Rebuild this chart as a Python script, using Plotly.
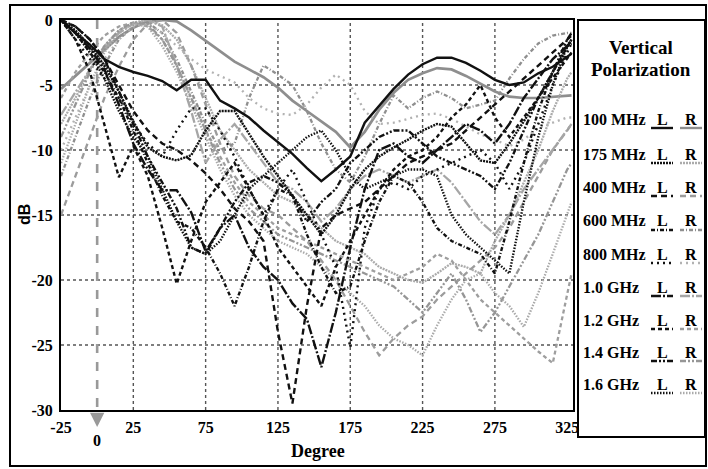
import plotly.graph_objects as go

# ---------------- data ----------------
DEG = [-25, -15, -5, 5, 15, 25, 35, 45, 55, 65, 75, 85, 95, 105, 115, 125, 135, 145,
       155, 165, 175, 185, 195, 205, 215, 225, 235, 245, 255, 265, 275, 285, 295, 305,
       315, 325, 328]

L_100 = [0, -1.0, -1.9, -3.0, -3.6, -4.0, -4.3, -4.7, -5.4, -4.6, -4.6, -6.2, -6.8, -7.5, -8.5, -9.4, -10.3, -11.4,
         -12.4, -11.5, -10.5, -7.9, -6.6, -5.3, -4.2, -3.4, -2.9, -2.9, -3.3, -3.9, -4.6, -5.0, -4.8, -4.1, -3.6, -2.8, -2.6]
R_100 = [-5.3, -4.3, -3.3, -2.3, -1.3, -0.6, -0.1, 0, -0.1, -0.8, -1.6, -2.4, -3.2, -3.8, -4.4, -5.2, -6.2, -7.0,
         -7.8, -8.6, -9.8, -8.6, -6.9, -5.6, -4.6, -4.1, -3.7, -3.8, -4.3, -4.9, -5.5, -5.9, -6.0, -6.0, -5.9, -5.8, -5.8]
L_175 = [0, -0.8, -2.0, -3.5, -5.5, -7.8, -9.8, -10.5, -10.8, -10.4, -8.5, -7.0, -7.0, -8.8, -10.5, -12.0, -13.5, -15.0,
         -16.5, -15.0, -13.0, -11.5, -10.5, -9.8, -9.2, -8.5, -8.0, -8.2, -9.5, -10.8, -11.0, -9.5, -7.8, -6.0, -4.0, -2.0, -1.5]
R_175 = [-8.0, -6.0, -3.8, -2.0, -0.8, -0.2, 0, -0.4, -1.5, -3.5, -6.0, -8.5, -10.0, -11.5, -12.5, -13.5, -14.0, -15.0,
         -16.0, -17.0, -17.5, -18.0, -19.0, -19.5, -20.0, -20.2, -19.5, -18.7, -19.0, -19.5, -17.0, -15.0, -12.5, -10.0, -7.0, -4.5, -4.0]
L_400 = [0, -0.5, -1.5, -3.0, -5.0, -7.0, -8.5, -9.5, -10.0, -10.8, -11.8, -13.0, -14.5, -15.5, -17.0, -24.0, -29.5, -22.0,
         -16.0, -15.0, -14.5, -14.0, -13.0, -12.0, -11.0, -10.5, -10.0, -9.5, -8.5, -7.5, -6.5, -5.5, -4.5, -3.5, -2.5, -1.5, -1.2]
R_400 = [-15.0, -12.0, -9.0, -6.0, -3.6, -1.5, -0.3, 0, -1.0, -3.5, -6.5, -9.5, -12.0, -13.5, -14.5, -15.0, -16.0, -17.0,
         -18.5, -20.0, -22.0, -24.0, -25.8, -24.5, -23.5, -22.8, -21.5, -20.5, -19.5, -18.5, -17.5, -16.0, -14.0, -12.0, -10.0, -8.5, -8.0]
L_600 = [0, -1.0, -2.5, -4.0, -6.0, -8.5, -11.0, -13.5, -15.5, -16.0, -17.5, -19.5, -22.0, -19.0, -15.5, -13.0, -13.5, -16.5,
         -19.0, -21.0, -20.5, -17.0, -14.0, -12.0, -12.5, -14.0, -16.0, -17.0, -17.5, -18.0, -19.5, -15.5, -11.0, -7.0, -4.0, -2.0, -1.5]
R_600 = [-12.0, -9.0, -6.0, -3.5, -1.5, -0.5, -0.2, -1.0, -3.0, -5.5, -8.0, -10.0, -9.5, -6.0, -3.5, -4.2, -5.0, -7.0,
         -9.5, -11.5, -12.5, -10.5, -8.0, -5.8, -6.8, -6.0, -5.5, -6.0, -6.8, -6.5, -6.2, -4.5, -3.0, -1.8, -1.2, -1.0, -1.0]
L_800 = [0, -1.5, -3.0, -4.5, -6.0, -8.0, -9.5, -10.5, -8.5, -6.8, -6.8, -8.5, -10.5, -13.0, -15.0, -13.0, -11.5, -14.0,
         -16.5, -19.0, -25.2, -16.0, -13.0, -12.5, -13.0, -12.0, -11.5, -11.0, -10.5, -10.0, -11.0, -13.0, -11.0, -8.0, -5.0, -2.5, -1.8]
R_800 = [-10.0, -7.5, -5.0, -3.0, -1.5, -0.5, -0.3, -1.0, -2.0, -3.0, -3.8, -4.3, -4.8, -6.0, -6.8, -7.2, -7.3, -6.5,
         -5.2, -4.2, -5.0, -7.0, -8.0, -7.9, -7.6, -7.3, -7.2, -7.6, -8.2, -8.8, -9.2, -9.7, -9.2, -8.3, -7.9, -7.5, -7.5]
L_1000 = [0, -1.0, -2.2, -3.8, -6.5, -9.5, -11.5, -13.1, -13.1, -14.8, -17.8, -16.0, -15.0, -17.5, -19.0, -20.0, -21.8, -23.0,
          -26.7, -22.5, -17.5, -13.0, -10.0, -9.5, -10.5, -11.0, -10.0, -9.0, -8.0, -8.5, -9.5, -8.0, -6.0, -4.5, -3.0, -2.0, -1.8]
R_1000 = [-7.3, -5.5, -3.8, -2.2, -1.0, -0.3, 0, -0.5, -3.5, -7.0, -11.0, -9.2, -8.0, -9.5, -11.0, -12.5, -13.0, -14.0,
          -15.5, -14.5, -13.0, -12.0, -11.5, -12.0, -12.5, -12.0, -11.5, -12.5, -14.0, -15.5, -16.5, -15.0, -13.0, -11.5, -10.0, -8.5, -8.0]
L_1200 = [0, -1.5, -4.0, -8.0, -12.1, -9.7, -12.0, -16.0, -20.3, -17.0, -14.0, -12.5, -11.0, -13.0, -15.0, -17.5, -19.0, -20.5,
          -22.0, -19.0, -17.0, -15.0, -13.0, -11.5, -10.5, -10.0, -9.0, -7.5, -6.5, -5.0, -7.5, -9.0, -7.5, -6.0, -4.5, -3.0, -2.5]
R_1200 = [-6.0, -4.0, -2.5, -1.2, -0.5, -0.2, -0.5, -1.5, -3.5, -6.0, -8.5, -10.5, -12.5, -14.0, -15.0, -16.0, -16.5, -17.0,
          -17.5, -18.0, -18.5, -19.0, -19.5, -20.0, -19.5, -19.0, -18.0, -18.5, -20.0, -21.5, -22.5, -23.5, -24.5, -25.5, -26.4, -21.0, -19.5]
L_1400 = [0, -0.5, -1.5, -3.0, -5.5, -8.0, -10.5, -12.5, -14.5, -17.5, -18.0, -16.0, -14.0, -12.5, -12.0, -12.5, -13.5, -15.5,
          -14.0, -13.0, -11.0, -10.0, -9.0, -8.5, -8.5, -9.5, -10.5, -11.0, -11.5, -12.0, -13.0, -11.0, -8.5, -6.0, -4.0, -1.5, -1.0]
R_1400 = [-9.0, -6.5, -4.0, -2.0, -0.8, -0.2, -0.3, -1.5, -3.5, -6.0, -8.5, -11.0, -13.0, -14.5, -15.5, -16.5, -17.0, -17.5,
          -18.0, -18.5, -19.0, -19.5, -20.0, -20.5, -21.5, -22.5, -21.0, -19.5, -21.5, -24.0, -22.5, -20.5, -18.5, -16.5, -14.0, -11.5, -11.0]
L_1600 = [0, -1.0, -2.5, -4.5, -7.0, -9.0, -10.5, -13.0, -15.5, -17.5, -18.0, -17.0, -15.0, -13.0, -12.0, -11.0, -10.0, -9.0,
          -8.5, -10.0, -12.0, -13.0, -12.5, -12.0, -11.5, -11.5, -12.0, -15.0, -16.5, -17.5, -18.5, -19.5, -14.0, -9.0, -5.0, -2.0, -1.5]
R_1600 = [-11.0, -8.0, -5.0, -2.5, -1.0, -0.3, -0.5, -2.0, -4.0, -6.5, -9.0, -11.5, -13.5, -15.0, -16.0, -17.0, -17.5, -18.0,
          -19.0, -20.0, -21.0, -22.0, -23.5, -24.5, -25.0, -25.8, -23.5, -21.5, -20.0, -19.5, -21.0, -22.0, -23.6, -21.0, -18.0, -15.0, -14.0]

FREQ_LABELS = ["100 MHz", "175 MHz", "400 MHz", "600 MHz", "800 MHz",
               "1.0 GHz", "1.2 GHz", "1.4 GHz", "1.6 GHz"]
L_SERIES = [L_100, L_175, L_400, L_600, L_800, L_1000, L_1200, L_1400, L_1600]
R_SERIES = [R_100, R_175, R_400, R_600, R_800, R_1000, R_1200, R_1400, R_1600]

X_TICKS = [-25, 25, 75, 125, 175, 225, 275, 325]
Y_TICKS = [0, -5, -10, -15, -20, -25, -30]
X_GRID = [25, 75, 125, 175, 225, 275]
Y_GRID = [-5, -10, -15, -20, -25]

# ---------------- styles ----------------
DASHES = ["solid", "2px,1px", "6px,4px", "4px,2px,1px,2px", "2px,4px",
          "10px,2px,2px,2px", "4px,3px", "6px,2px,2px,2px,2px,2px", "1.5px,1.5px"]
L_COLOR = "#111111"
R_COLORS = ["#8e8e8e", "#ababab", "#9c9c9c", "#8f8f8f", "#b2b2b2",
            "#a6a6a6", "#9e9e9e", "#969696", "#aaaaaa"]

W, H = 708, 469
PL, PR, PT, PB = 61, 573, 20, 410


def pxx(x):
    return (x - PL) / (PR - PL)


def pyy(y):
    return (PB - y) / (PB - PT)


SERIF = "Liberation Serif"


def bold(size, family=SERIF):
    return dict(family=family, size=size, color="black", weight="bold")


def label(x, y, text, size, xanchor="center", family=SERIF, angle=0, xref="paper"):
    return dict(x=x, y=y, xref=xref, yref="paper", text=text, showarrow=False,
                xanchor=xanchor, yanchor="middle", textangle=angle, font=bold(size, family))


fig = go.Figure()
for i, ys in enumerate(R_SERIES):
    fig.add_trace(go.Scatter(x=DEG, y=ys, mode="lines", name=FREQ_LABELS[i] + " R",
                             line=dict(color=R_COLORS[i], dash=DASHES[i],
                                       width=2.7 if i == 0 else 2.3),
                             showlegend=False, hoverinfo="skip"))
for i, ys in enumerate(L_SERIES):
    fig.add_trace(go.Scatter(x=DEG, y=ys, mode="lines", name=FREQ_LABELS[i] + " L",
                             line=dict(color=L_COLOR, dash=DASHES[i], width=2.4),
                             showlegend=False, hoverinfo="skip"))

shapes = []
for gx in X_GRID:
    shapes.append(dict(type="line", xref="x", yref="paper", x0=gx, x1=gx, y0=0, y1=1,
                       line=dict(color="#555555", width=1.4, dash="dot"), layer="below"))
for gy in Y_GRID:
    shapes.append(dict(type="line", xref="paper", yref="y", x0=0, x1=1, y0=gy, y1=gy,
                       line=dict(color="#555555", width=1.4, dash="dot"), layer="below"))
# zero-degree marker line
shapes.append(dict(type="line", xref="x", yref="paper", x0=0, x1=0, y0=1, y1=pyy(419),
                   line=dict(color="#999999", width=2.6, dash="dash"), layer="below"))
# outer frame
shapes.append(dict(type="rect", xref="paper", yref="paper", x0=pxx(10), x1=pxx(706),
                   y0=pyy(466), y1=pyy(5), line=dict(color="black", width=2)))
# legend box
shapes.append(dict(type="rect", xref="paper", yref="paper", x0=pxx(578), x1=pxx(705),
                   y0=pyy(437), y1=pyy(20), line=dict(color="black", width=2)))

annotations = []
annotations.append(dict(x=0, y=pyy(427), xref="x", yref="paper", text="", showarrow=True,
                        ax=0, ay=-10, arrowhead=2, arrowsize=1.1, arrowwidth=2.6,
                        arrowcolor="#999999"))
annotations.append(label(0, pyy(440), "0", 16, xref="x"))
annotations.append(label(pxx(318), pyy(451), "Degree", 18))
annotations.append(label(pxx(24), pyy(215), "dB", 16, family="Liberation Sans", angle=-90))
annotations.append(label(pxx(641), pyy(48), "Vertical", 19))
annotations.append(label(pxx(641), pyy(69), "Polarization", 19))

ROW_Y = [119, 154, 187, 221, 254, 287, 320, 352, 384]
for i, lab in enumerate(FREQ_LABELS):
    ry = ROW_Y[i]
    annotations.append(label(pxx(581), pyy(ry), lab, 16, xanchor="left"))
    annotations.append(label(pxx(662), pyy(ry), "L", 16))
    annotations.append(label(pxx(691), pyy(ry), "R", 16))
    shapes.append(dict(type="line", xref="paper", yref="paper", x0=pxx(651), x1=pxx(673),
                       y0=pyy(ry + 9), y1=pyy(ry + 9),
                       line=dict(color=L_COLOR, width=2.4, dash=DASHES[i])))
    shapes.append(dict(type="line", xref="paper", yref="paper", x0=pxx(680), x1=pxx(702),
                       y0=pyy(ry + 9), y1=pyy(ry + 9),
                       line=dict(color=R_COLORS[i], width=2.4, dash=DASHES[i])))

tickfont = bold(16)
fig.update_layout(
    width=W, height=H,
    margin=dict(l=PL, r=W - PR, t=PT, b=H - PB, autoexpand=False),
    paper_bgcolor="white", plot_bgcolor="white",
    showlegend=False,
    shapes=shapes, annotations=annotations,
    xaxis=dict(range=[-25, 329], tickmode="array", tickvals=X_TICKS,
               ticktext=[str(v) for v in X_TICKS], showgrid=False, zeroline=False,
               showline=True, mirror=True, linecolor="black", linewidth=2,
               ticks="outside", ticklen=2, tickcolor="rgba(0,0,0,0)", tickfont=tickfont),
    yaxis=dict(range=[-30, 0], tickmode="array", tickvals=Y_TICKS,
               ticktext=[str(v) for v in Y_TICKS], showgrid=False, zeroline=False,
               showline=True, mirror=True, linecolor="black", linewidth=2,
               ticks="outside", ticklen=3, tickcolor="rgba(0,0,0,0)", tickfont=tickfont),
)

fig.write_html("out.html", config={"displayModeBar": False},
               post_script="document.body.style.margin='0';document.body.style.overflow='hidden';")
